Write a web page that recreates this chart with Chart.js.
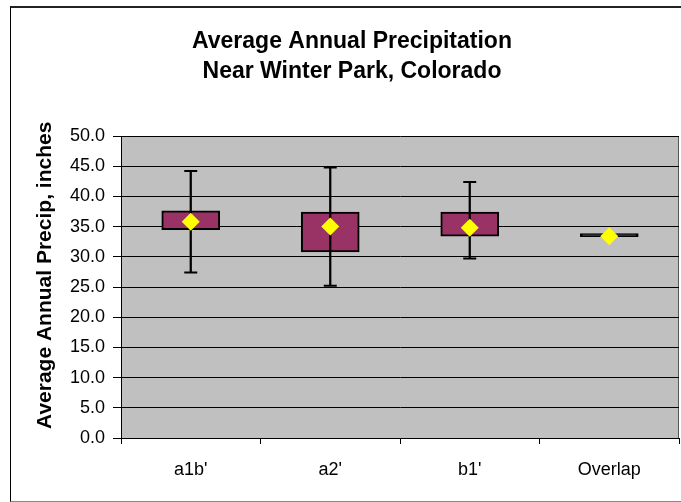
<!DOCTYPE html>
<html><head><meta charset="utf-8">
<script src="https://cdn.jsdelivr.net/npm/chart.js@4.4.1/dist/chart.umd.min.js"></script>
<style>
html,body{margin:0;padding:0;background:#fff;overflow:hidden;width:681px;height:502px;}
#frame{position:absolute;left:10px;top:6px;width:700px;height:493px;border-left:1px solid #000;border-top:2px solid #222;border-bottom:1px solid #888;}
#wrap{position:absolute;left:0;top:0;width:681px;height:502px;}
</style></head><body>
<div id="frame"></div>
<div id="wrap"><canvas id="c" width="681" height="502"></canvas></div>
<script>
const categories = ["a1b'", "a2'", "b1'", "Overlap"];
const boxLow = [34.5, 30.8, 33.4, 33.35];
const boxHigh = [37.6, 37.4, 37.4, 33.85];
const whiskerLow = [27.4, 25.2, 29.7, null];
const whiskerHigh = [44.2, 44.8, 42.4, null];
const means = [35.8, 35.0, 34.8, 33.4];
const yTickValues = [0, 5, 10, 15, 20, 25, 30, 35, 40, 45, 50];
const titleLines = ["Average Annual Precipitation", "Near Winter Park, Colorado"];
const yAxisTitle = "Average Annual Precip, inches";

const FONT = "'Liberation Sans', Arial, sans-serif";

const plotBg = {
  id: 'plotBg',
  beforeDraw(chart) {
    const {ctx, chartArea: a} = chart;
    ctx.save();
    ctx.fillStyle = '#C0C0C0';
    ctx.fillRect(a.left, a.top, a.right - a.left, a.bottom - a.top);
    ctx.strokeStyle = '#555';
    ctx.lineWidth = 1;
    ctx.beginPath();
    ctx.moveTo(a.right - 0.5, a.top);
    ctx.lineTo(a.right - 0.5, a.bottom);
    ctx.stroke();
    ctx.restore();
  }
};

new Chart(document.getElementById('c'), {
  data: {
    labels: categories,
    datasets: [
      {
        type: 'line', data: means, showLine: false, order: 0,
        pointStyle: 'rectRot', pointRadius: 9, pointHoverRadius: 9,
        pointBackgroundColor: '#FFFF00', pointBorderColor: '#FFFF00', pointBorderWidth: 0
      },
      {
        type: 'line', data: whiskerHigh, showLine: false, order: 1,
        pointStyle: 'line', pointRadius: 6.5, pointHoverRadius: 6.5,
        pointBorderColor: '#000', pointBorderWidth: 2
      },
      {
        type: 'line', data: whiskerLow, showLine: false, order: 1,
        pointStyle: 'line', pointRadius: 6.5, pointHoverRadius: 6.5,
        pointBorderColor: '#000', pointBorderWidth: 2
      },
      {
        type: 'bar', order: 2, grouped: false,
        data: whiskerLow.map((l, i) => l == null ? null : [l, whiskerHigh[i]]),
        barThickness: 1.6, backgroundColor: '#000', borderWidth: 0
      },
      {
        type: 'bar', order: 3, grouped: false,
        data: boxLow.map((l, i) => [l, boxHigh[i]]),
        barThickness: 58,
        backgroundColor: ['#993366', '#993366', '#993366', '#000'],
        borderColor: '#000', borderWidth: 2, borderSkipped: false
      }
    ]
  },
  options: {
    responsive: false,
    animation: false,
    devicePixelRatio: 1,
    layout: { autoPadding: false, padding: { left: 25, right: 2, top: 0, bottom: 0 } },
    plugins: {
      legend: { display: false },
      tooltip: { enabled: false },
      title: {
        display: true, text: titleLines, color: '#000',
        font: { family: FONT, size: 23, weight: 'bold', lineHeight: 30/23 },
        padding: { top: 27, bottom: 49 }
      }
    },
    scales: {
      x: {
        offset: true,
        grid: { display: true, drawOnChartArea: false, drawTicks: true, tickLength: 6, color: '#000', offset: true },
        border: { display: true, color: '#000', width: 1 },
        ticks: { color: '#000', font: { family: FONT, size: 18 }, padding: 15, maxRotation: 0 },
        afterFit(axis) { axis.height = 64; }
      },
      y: {
        min: 0, max: 50,
        afterBuildTicks(axis) { axis.ticks = yTickValues.map(v => ({ value: v })); },
        grid: { color: '#000', lineWidth: 1, drawTicks: true, tickLength: 8 },
        border: { display: true, color: '#000', width: 1 },
        ticks: { color: '#000', font: { family: FONT, size: 18 }, padding: 8, callback: v => Number(v).toFixed(1) },
        title: {
          display: true, text: '    ' + yAxisTitle, color: '#000',
          font: { family: FONT, size: 21, weight: 'bold', lineHeight: 1.2 },
          padding: { top: 8, bottom: 0 }
        },
        afterFit(axis) { axis.width = 96; }
      }
    }
  },
  plugins: [plotBg]
});
</script>
</body></html>
